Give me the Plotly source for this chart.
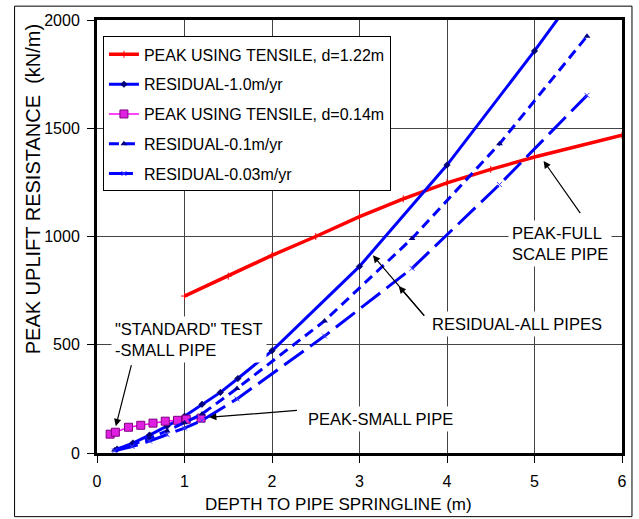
import plotly.graph_objects as go

# Peak uplift resistance vs. depth to pipe springline
peak_full_x = [1.0, 1.5, 2.0, 2.5, 3.0, 3.5, 4.0, 4.5, 5.0, 6.0]
peak_full_y = [725, 817, 913, 1000, 1092, 1174, 1248, 1310, 1367, 1468]

res_10_x = [0.23, 0.41, 0.6, 0.8, 1.0, 1.2, 1.41, 1.61, 2.0, 3.0, 4.0, 5.0, 5.6]
res_10_y = [18, 46, 83, 124, 170, 225, 280, 344, 472, 862, 1330, 1857, 2190]

peak_small_x = [0.15, 0.21, 0.36, 0.5, 0.64, 0.78, 0.92, 1.02, 1.19]
peak_small_y = [87, 96, 119, 128, 138, 147, 151, 156, 161]

res_01_x = [0.2, 0.4, 0.6, 0.8, 1.0, 1.2, 1.6, 2.6, 3.6, 4.6, 5.6]
res_01_y = [14, 38, 68, 102, 140, 180, 298, 610, 991, 1428, 1925]

res_003_x = [0.2, 0.4, 0.6, 0.8, 1.0, 1.2, 1.6, 2.6, 3.6, 4.6, 5.6]
res_003_y = [10, 30, 55, 85, 115, 150, 250, 540, 853, 1240, 1652]

x_ticks = [0, 1, 2, 3, 4, 5, 6]
y_ticks = [0, 500, 1000, 1500, 2000]

FONT = "Liberation Sans Narrow, Arial Narrow, Liberation Sans, Arial, sans-serif"

fig = go.Figure()

fig.add_trace(go.Scatter(
    x=peak_full_x, y=peak_full_y, name="PEAK USING TENSILE, d=1.22m",
    mode="lines+markers", legendgroup="a",
    line=dict(color="#ff0000", width=3.5),
    marker=dict(symbol="cross-thin", size=5, line=dict(color="#ff0000", width=1)),
))
fig.add_trace(go.Scatter(
    x=res_10_x, y=res_10_y, name="RESIDUAL-1.0m/yr",
    mode="lines+markers", legendgroup="b",
    line=dict(color="#0000ff", width=3),
    marker=dict(symbol="diamond", size=5, color="#000080", line=dict(color="#000040", width=0.5)),
))
fig.add_trace(go.Scatter(
    x=peak_small_x, y=peak_small_y, name="PEAK USING TENSILE, d=0.14m",
    mode="lines+markers", legendgroup="c",
    line=dict(color="#ff00ff", width=1.5),
    marker=dict(symbol="square", size=8, color="#e020e0", line=dict(color="#800080", width=1)),
))
fig.add_trace(go.Scatter(
    x=res_01_x, y=res_01_y, name="RESIDUAL-0.1m/yr",
    mode="lines+markers", legendgroup="d",
    line=dict(color="#0000ff", width=3, dash="10px,6px"),
    marker=dict(symbol="triangle-up", size=6, color="#000080"),
))
fig.add_trace(go.Scatter(
    x=res_003_x, y=res_003_y, name="RESIDUAL-0.03m/yr",
    mode="lines+markers", legendgroup="e",
    line=dict(color="#0000ff", width=3, dash="24px,8px"),
    marker=dict(symbol="x-thin", size=5, line=dict(color="#4040ff", width=1)),
))

# Callout arrows (tip -> tail in data coordinates)
arrows = [
    ((5.104, 1349), (5.535, 1101)),
    ((3.153, 913), (3.754, 628)),
    ((3.448, 771), (3.754, 628)),
    ((1.282, 165), (2.302, 197)),
    ((0.215, 124), (0.397, 413)),
]
for (tx, ty), (sx, sy) in arrows:
    fig.add_annotation(
        x=tx, y=ty, ax=sx, ay=sy, xref="x", yref="y", axref="x", ayref="y",
        text="", showarrow=True, arrowhead=2, arrowsize=1.2, arrowwidth=1.2,
        arrowcolor="black",
    )

labels = [
    (4.70, 970, "PEAK-FULL<br>SCALE PIPE"),
    (3.78, 596, "RESIDUAL-ALL PIPES"),
    (2.36, 156, "PEAK-SMALL PIPE"),
    (0.16, 523, "\"STANDARD\" TEST<br>-SMALL PIPE"),
]
for lx, ly, txt in labels:
    fig.add_annotation(
        x=lx, y=ly, xref="x", yref="y", text=txt, showarrow=False,
        xanchor="left", yanchor="middle", align="left",
        bgcolor="white", borderpad=3,
        font=dict(family=FONT, size=16.5, color="black"),
    )

# Axis titles
fig.add_annotation(
    x=0.46, y=-0.12, xref="paper", yref="paper",
    text="DEPTH TO PIPE SPRINGLINE (m)", showarrow=False,
    xanchor="center", yanchor="middle",
    font=dict(family=FONT, size=17, color="black"),
)
fig.add_annotation(
    x=-0.123, y=0.61, xref="paper", yref="paper",
    text="PEAK UPLIFT RESISTANCE  (kN/m)", showarrow=False, textangle=-90,
    xanchor="center", yanchor="middle",
    font=dict(family=FONT, size=20, color="black"),
)

# Outer border of the figure
fig.add_shape(
    type="rect", xref="paper", yref="paper",
    x0=-0.157, x1=1.019, y0=-0.147, y1=1.032,
    line=dict(color="black", width=1), fillcolor="rgba(0,0,0,0)", layer="below",
)

fig.update_layout(
    width=639, height=519,
    margin=dict(l=97, r=13, t=17, b=66),
    paper_bgcolor="white", plot_bgcolor="white",
    font=dict(family=FONT, size=16, color="black"),
    showlegend=True,
    legend=dict(
        x=0.0113, y=0.962, xanchor="left", yanchor="top",
        bgcolor="white", bordercolor="black", borderwidth=1,
        font=dict(family=FONT, size=16, color="black"),
        tracegroupgap=6, itemwidth=30,
    ),
    xaxis=dict(
        range=[0, 6], tickvals=x_ticks, ticks="outside", ticklen=7,
        tickcolor="black", showgrid=True, gridcolor="#444", gridwidth=1,
        showline=True, linecolor="black", linewidth=3, mirror=True,
        zeroline=False, tickfont=dict(family=FONT, size=16),
        ticklabelstandoff=5,
    ),
    yaxis=dict(
        range=[0, 2000], tickvals=y_ticks, ticks="outside", ticklen=7,
        tickcolor="black", showgrid=True, gridcolor="#444", gridwidth=1,
        showline=True, linecolor="black", linewidth=3, mirror=True,
        zeroline=False, tickfont=dict(family=FONT, size=16),
        ticklabelstandoff=4,
    ),
)

fig.write_html("out.html")
